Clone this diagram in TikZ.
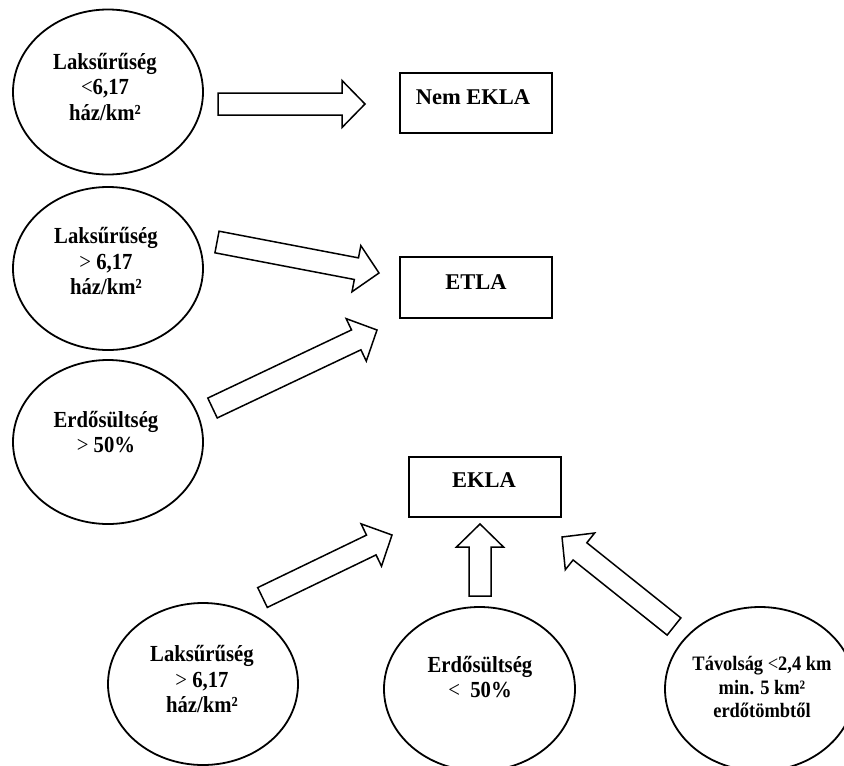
\documentclass[tikz,border=0pt]{standalone}
\usepackage{fontspec}
\setmainfont{Liberation Serif}
\newfontfamily\condfont{Liberation Serif}[FakeStretch=0.9]
\usetikzlibrary{shapes.geometric,calc}
\tikzset{
  ell/.style={draw, ellipse, line width=1.8pt, inner sep=0pt},
  box/.style={draw, rectangle, line width=1.8pt, minimum width=152pt, minimum height=60pt, inner sep=0pt},
  txt/.style={font=\condfont\bfseries\fontsize{23}{25.5}\selectfont, align=center, inner sep=0pt},
  txts/.style={font=\condfont\bfseries\fontsize{20.5}{23.5}\selectfont, align=center, inner sep=0pt},
  btxt/.style={font=\bfseries\fontsize{22.5}{26}\selectfont, inner sep=0pt},
  barr/.style={draw, line width=1.5pt, line join=miter, fill=white},
}
\newcommand{\blockarrow}[3]{%
  \coordinate (#1h) at ($(#3)!23pt!(#2)$);
  \draw[barr] ($(#2)!11pt!90:(#3)$) -- ($(#1h)!11pt!90:(#3)$) -- ($(#1h)!23.5pt!90:(#3)$) -- (#3)
     -- ($(#1h)!23.5pt!-90:(#3)$) -- ($(#1h)!11pt!-90:(#3)$) -- ($(#2)!11pt!-90:(#3)$) -- cycle;
}
\begin{document}
\begin{tikzpicture}[x=1pt,y=-1pt]
\fill[white] (0,0) rectangle (844,766);
\path[use as bounding box] (0,0) rectangle (844,766);
\clip (0,0) rectangle (844,766);

% ellipses
\node[ell, minimum width=190pt, minimum height=165pt] (e1) at (108,92) {};
\node[ell, minimum width=190pt, minimum height=163pt] (e2) at (108,268.5) {};
\node[ell, minimum width=190pt, minimum height=164pt] (e3) at (108,442) {};
\node[ell, minimum width=190pt, minimum height=162pt] (e4) at (203,684) {};
\node[ell, minimum width=191pt, minimum height=164pt] (e5) at (479.5,689) {};
\node[ell, minimum width=190pt, minimum height=164pt] (e6) at (760,689) {};

% ellipse texts
\node[txt] (t1) at (105,87) {Laksűrűség\\{\mdseries <}6,17\\ház/km²};
\node[txt] (t2) at (106,261) {Laksűrűség\\{\mdseries >} 6,17\\ház/km²};
\node[txt] (t3) at (106,432) {Erdősültség\\{\mdseries >} 50\%};
\node[txt] (t4) at (202,679) {Laksűrűség\\{\mdseries >} 6,17\\ház/km²};
\node[txt] (t5) at (480,677) {Erdősültség\\{\mdseries <}\ \ 50\%};
\node[txts] (t6) at (762,687) {Távolság {\mdseries <}2,4 km\\min. 5 km²\\erdőtömbtől};

% boxes
\node[box] (b1) at (476,103) {};
\node[box, minimum height=61pt] (b2) at (476,287.5) {};
\node[box] (b3) at (485,487) {};
\node[btxt, anchor=base] (l1) at (473,104) {Nem EKLA};
\node[btxt, anchor=base] (l2) at (476,289) {ETLA};
\node[btxt, anchor=base] (l3) at (484,487) {EKLA};

% arrow end points
\coordinate (a1t) at (218,104);   \coordinate (a1p) at (365,104);
\coordinate (a2t) at (217,242);   \coordinate (a2p) at (379,273);
\coordinate (a3t) at (212.5,408); \coordinate (a3p) at (377,330);
\coordinate (a4t) at (262.5,597.5); \coordinate (a4p) at (392,535);
\coordinate (a5t) at (480,596);   \coordinate (a5p) at (480,524);
\coordinate (a6t) at (674,626.5); \coordinate (a6p) at (562,537);

\blockarrow{a1}{a1t}{a1p}
\blockarrow{a2}{a2t}{a2p}
\blockarrow{a3}{a3t}{a3p}
\blockarrow{a4}{a4t}{a4p}
\blockarrow{a5}{a5t}{a5p}
\blockarrow{a6}{a6t}{a6p}
\end{tikzpicture}
\end{document}
